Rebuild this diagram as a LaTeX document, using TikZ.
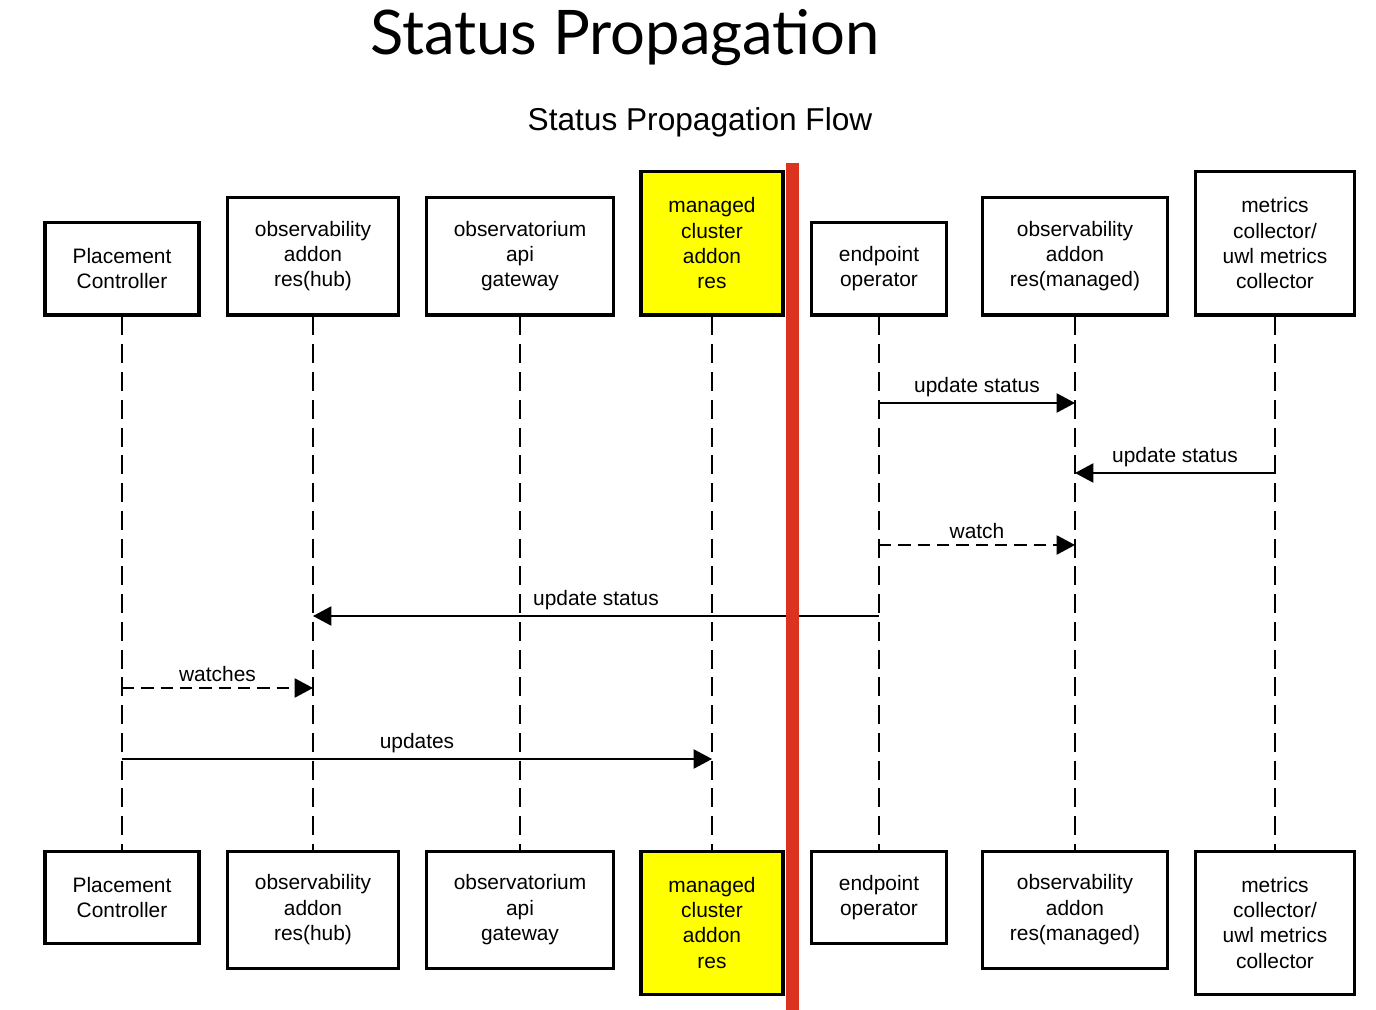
\documentclass[tikz,border=0pt]{standalone}
\usepackage{fontspec}
\setmainfont{Liberation Sans}
\newfontfamily\titlefont{Lato}
\usetikzlibrary{arrows.meta}
\definecolor{divred}{RGB}{220,50,32}
\definecolor{resyellow}{RGB}{255,255,0}

\begin{document}
\begin{tikzpicture}[x=0.02cm, y=-0.02cm,
  box/.style={draw, line width=2pt, align=center, inner sep=0pt,
    font=\fontsize{11.9}{14.4}\selectfont},
  life/.style={line width=0.8pt, dash pattern=on 10.8pt off 5pt},
  msg/.style={line width=0.8pt, -{Triangle[length=10.5pt, width=11pt]}},
  msgdash/.style={msg, dash pattern=on 7pt off 4pt},
  lbl/.style={above, inner sep=3pt, font=\fontsize{11.9}{14.4}\selectfont}]
  \useasboundingbox (0,0) rectangle (1376,1010);
  % titles
  \node[anchor=base, font=\titlefont\fontsize{35}{40}\selectfont] (title) at (625,55) {Status Propagation};
  \node[anchor=base, font=\fontsize{18}{21}\selectfont] (subtitle) at (700,131) {Status Propagation Flow};
  % participants, head on top, foot below, lifeline in between
  \foreach \n/\x/\w/\h/\f/\t in {
    pc/122/154/92/white/{Placement\\Controller},
    hub/313/171/117/white/{observability\\addon\\res(hub)},
    obsv/520/187/117/white/{observatorium\\api\\gateway},
    mca/712/142/143/resyellow/{managed\\cluster\\addon\\res},
    ep/879/135/92/white/{endpoint\\operator},
    obm/1075/185/117/white/{observability\\addon\\res(managed)},
    mc/1275/159/143/white/{metrics\\collector/\\uwl metrics\\collector}}{
    \node[box, fill=\f, minimum width=\w*0.02cm, minimum height=\h*0.02cm, anchor=south] (top\n) at (\x,316.5) {\t};
    \node[box, fill=\f, minimum width=\w*0.02cm, minimum height=\h*0.02cm, anchor=north] (bot\n) at (\x,849.5) {\t};
    \draw[life] (top\n) -- (bot\n);
  }
  % messages
  \draw[msg] (topep |- 0,403) -- node[lbl] {update status} (topobm |- 0,403);
  \draw[msg] (topmc |- 0,473) -- node[lbl] {update status} (topobm |- 0,473);
  \draw[msgdash] (topep |- 0,545) -- node[lbl] {watch} (topobm |- 0,545);
  \draw[msg] (topep |- 0,616) -- node[lbl] {update status} (tophub |- 0,616);
  \draw[msgdash] (toppc |- 0,688) -- node[lbl] {watches} (tophub |- 0,688);
  \draw[msg] (toppc |- 0,759) -- node[lbl] {updates} (topmca |- 0,759);
  % hub / managed divider
  \draw[divred, line width=7pt] (792.5,163) -- (792.5,1010);
\end{tikzpicture}
\end{document}
